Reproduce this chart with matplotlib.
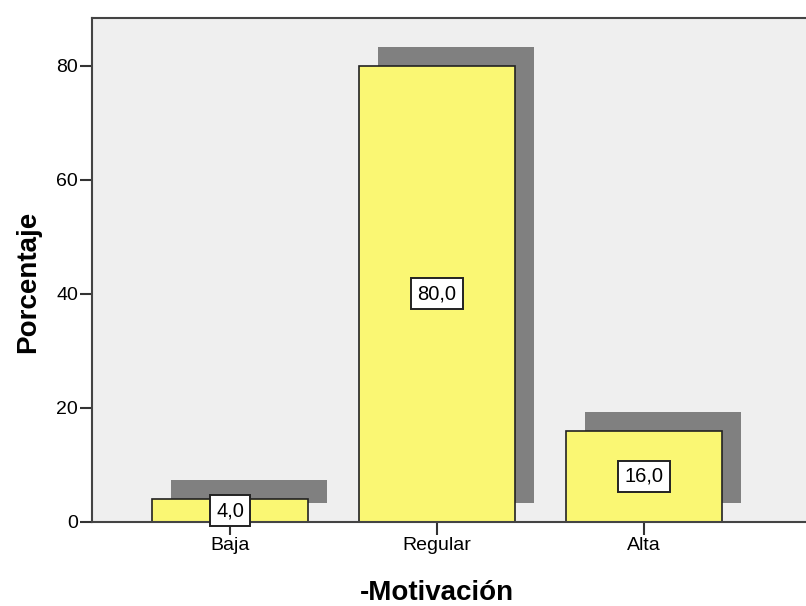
import matplotlib
matplotlib.use("Agg")
import matplotlib.pyplot as plt
from matplotlib.transforms import ScaledTranslation

categories = ["Baja", "Regular", "Alta"]
values = [4.0, 80.0, 16.0]
yticks = [0, 20, 40, 60, 80]

plt.rcParams['font.family'] = ['Liberation Sans', 'DejaVu Sans']

fig = plt.figure(figsize=(8.06, 6.06), dpi=100)
ax = fig.add_axes([92/806, 84/606, 1 - 92/806, (588-84)/606])
ax.set_facecolor('#EFEFEF')

x = list(range(len(categories)))
width = 0.75

shadow = ax.bar(x, values, width=width, color='#808080', edgecolor='none', zorder=1)
off = ScaledTranslation(19/100, 19/100, fig.dpi_scale_trans)
for p in shadow:
    p.set_transform(ax.transData + off)

bars = ax.bar(x, values, width=width, color='#FAF773', edgecolor='#222222', linewidth=1.2, zorder=2)

for xi, v in zip(x, values):
    ax.text(xi, max(v/2, 2.0), f"{v:.1f}".replace('.', ','), ha='center', va='center',
            fontsize=14.5, zorder=3,
            bbox=dict(boxstyle='square,pad=0.3', facecolor='white', edgecolor='#222222', linewidth=1.4))

ax.set_xlim(-138/207, (806-230)/207)
ax.set_ylim(0, 88.4)
ax.set_xticks(x)
ax.set_xticklabels(categories, fontsize=14)
ax.set_yticks(yticks)
ax.set_yticklabels([str(t) for t in yticks], fontsize=14)
ax.tick_params(axis='y', direction='out', length=9, width=1.5, color='#333333', pad=1)
ax.tick_params(axis='x', direction='out', length=9, width=1.5, color='#333333', pad=2)

for s in ['left', 'bottom', 'top']:
    ax.spines[s].set_color('#444444')
    ax.spines[s].set_linewidth(1.5)
ax.spines['right'].set_visible(False)

fig.text(28/806, 1 - 282/606, 'Porcentaje', rotation=90, ha='center', va='center',
         fontsize=20, fontweight='bold')
fig.text(437/806, 1 - 593/606, '-Motivación', ha='center', va='center',
         fontsize=20, fontweight='bold')

fig.savefig('out.png', dpi=100)
